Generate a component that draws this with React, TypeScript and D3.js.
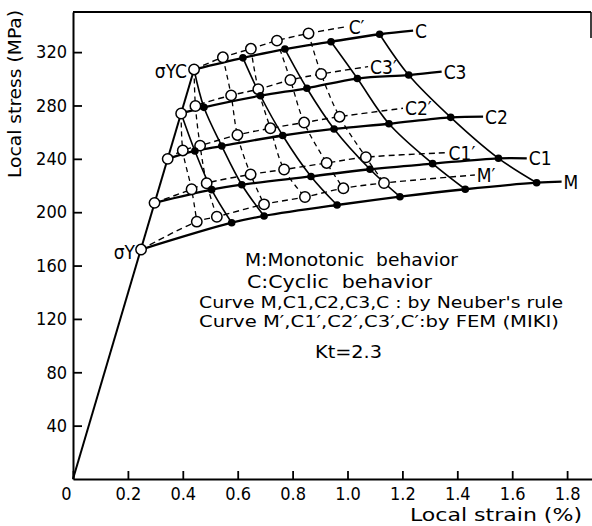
import React, { useEffect, useRef } from "react";
import * as d3 from "d3";

type Pt = [number, number];

// all points are [local strain (%), local stress (MPa)]
const yieldM: Pt = [0.248, 172];
const yieldC1: Pt = [0.297, 207];
const yieldC2: Pt = [0.345, 240];
const yieldC3: Pt = [0.394, 274];
const yieldC: Pt = [0.441, 307];

// curves by Neuber's rule (solid line, filled dots)
const neuberM: Pt[] = [[0.578, 192.1], [0.696, 197.2], [0.962, 205.4], [1.191, 211.6], [1.429, 217.2], [1.689, 222.1]];
const neuberC1: Pt[] = [[0.505, 216.9], [0.615, 220.6], [0.867, 226.8], [1.082, 232.2], [1.31, 236.4], [1.55, 240.4]];
const neuberC2: Pt[] = [[0.444, 245.9], [0.542, 249.6], [0.764, 257.5], [0.951, 262.4], [1.151, 266.3], [1.376, 271.1]];
const neuberC3: Pt[] = [[0.477, 278.6], [0.683, 287.3], [0.852, 292.9], [1.036, 300.2], [1.223, 302.8]];
const neuberC: Pt[] = [[0.619, 315.7], [0.772, 322.3], [0.94, 327.8], [1.117, 333.4]];
const neuberEnds: Pt[] = [[1.78, 222.9], [1.653, 240.4], [1.494, 271.7], [1.343, 305.3], [1.239, 336.1]];

// curves by FEM (MIKI) (dashed line, open circles)
const femM: Pt[] = [[0.451, 192.9], [0.524, 196.6], [0.696, 205.9], [0.845, 211.4], [0.985, 217.9], [1.133, 221.9]];
const femC1: Pt[] = [[0.432, 217.2], [0.487, 221.7], [0.647, 228.3], [0.769, 232.0], [0.924, 236.9], [1.067, 241.2]];
const femC2: Pt[] = [[0.4, 246.3], [0.463, 249.9], [0.599, 257.9], [0.719, 262.9], [0.842, 267.2], [0.971, 271.6]];
const femC3: Pt[] = [[0.446, 279.6], [0.576, 287.6], [0.675, 292.2], [0.792, 299.1], [0.904, 303.6]];
const femC: Pt[] = [[0.546, 316.1], [0.648, 322.5], [0.743, 328.6], [0.858, 334.0]];
const femEnds: Pt[] = [[1.464, 227.9], [1.361, 244.6], [1.202, 277.9], [1.075, 309.1], [0.997, 339.1]];

const neuberNames = ["M", "C1", "C2", "C3", "C"];
const femNames = ["M\u2032", "C1\u2032", "C2\u2032", "C3\u2032", "C\u2032"];

const xTicks = [0, 0.2, 0.4, 0.6, 0.8, 1.0, 1.2, 1.4, 1.6, 1.8];
const yTicks = [40, 80, 120, 160, 200, 240, 280, 320];

const notes = [
  "M:Monotonic  behavior",
  "C:Cyclic  behavior",
  "Curve M,C1,C2,C3,C : by Neuber's rule",
  "Curve M\u2032,C1\u2032,C2\u2032,C3\u2032,C\u2032:by FEM (MIKI)",
  "Kt=2.3",
];

const FONT = "'DejaVu Sans Condensed', 'DejaVu Sans', sans-serif";

const App = () => {
  const chartRef = useRef<HTMLDivElement>(null);

  useEffect(() => {
    document.body.style.margin = "0";
    d3.select(chartRef.current).selectAll("*").remove();

    const width = 592;
    const height = 526;

    const svg = d3
      .select(chartRef.current)
      .append("svg")
      .attr("width", width)
      .attr("height", height)
      .style("display", "block")
      .style("background", "#fff")
      .attr("font-family", FONT);

    const x = d3.scaleLinear().domain([0, 1.9]).range([73, 594.55]);
    const y = d3.scaleLinear().domain([0, 350]).range([479, 12.1]);

    // axes
    const xAxis = svg
      .append("g")
      .attr("transform", `translate(0,${y(0)})`)
      .call(
        d3
          .axisBottom(x)
          .tickValues(xTicks)
          .tickSizeInner(-8)
          .tickSizeOuter(0)
          .tickPadding(8)
          .tickFormat((d) => (+d === 0 ? "0" : (+d).toFixed(1)))
      );
    xAxis.select(".domain").attr("stroke-width", 2);
    xAxis.selectAll(".tick line").attr("stroke-width", 1.8);
    xAxis
      .selectAll("text")
      .attr("font-size", 18)
      .attr("font-family", FONT)
      .attr("dx", (d: any) => (+d === 0 ? -7 : 0));

    const yAxis = svg
      .append("g")
      .attr("transform", `translate(${x(0)},0)`)
      .call(d3.axisLeft(y).tickValues(yTicks).tickSizeInner(-9).tickSizeOuter(0).tickPadding(6));
    yAxis.select(".domain").attr("stroke-width", 2);
    yAxis.selectAll(".tick line").attr("stroke-width", 1.8);
    yAxis.selectAll("text").attr("font-size", 18).attr("font-family", FONT);

    // frame top and right stub
    svg
      .append("line")
      .attr("x1", x(0))
      .attr("x2", 591)
      .attr("y1", y(350))
      .attr("y2", y(350))
      .attr("stroke", "#000")
      .attr("stroke-width", 2);
    svg
      .append("line")
      .attr("x1", 591)
      .attr("x2", 591)
      .attr("y1", y(350))
      .attr("y2", 38)
      .attr("stroke", "#000")
      .attr("stroke-width", 1.5);

    // axis titles
    svg
      .append("text")
      .attr("transform", `translate(21,94) rotate(-90)`)
      .attr("text-anchor", "middle")
      .attr("font-size", 18)
      .attr("textLength", 168)
      .attr("lengthAdjust", "spacingAndGlyphs")
      .text("Local stress (MPa)");
    svg
      .append("text")
      .attr("x", 410)
      .attr("y", 521)
      .attr("font-size", 18)
      .attr("textLength", 172)
      .attr("lengthAdjust", "spacingAndGlyphs")
      .text("Local strain (%)");

    const smooth = d3
      .line<Pt>()
      .x((d) => x(d[0]))
      .y((d) => y(d[1]))
      .curve(d3.curveCatmullRom.alpha(0.5));

    // elastic line
    svg
      .append("path")
      .attr("d", d3.line<Pt>().x((d) => x(d[0])).y((d) => y(d[1]))([[0, 0], yieldC]) as string)
      .attr("fill", "none")
      .attr("stroke", "#000")
      .attr("stroke-width", 2);

    const starts = [yieldM, yieldC1, yieldC2, yieldC3, yieldC];
    const neuber = [neuberM, neuberC1, neuberC2, neuberC3, neuberC];
    const fem = [femM, femC1, femC2, femC3, femC];

    // crossing curves (same nominal stress level), from top curve to M
    const crossings = (sets: Pt[][]) => {
      const fullC3 = [yieldC3, ...sets[3]];
      const fullC = [yieldC, ...sets[4]];
      return d3.range(6).map((j) => {
        const pts: Pt[] = [];
        if (j >= 1) pts.push(fullC[j - 1]);
        pts.push(fullC3[j], sets[2][j], sets[1][j], sets[0][j]);
        return pts;
      });
    };

    crossings(neuber).forEach((pts) => {
      svg
        .append("path")
        .attr("d", smooth(pts) as string)
        .attr("fill", "none")
        .attr("stroke", "#000")
        .attr("stroke-width", 1.6);
    });
    crossings(fem).forEach((pts) => {
      svg
        .append("path")
        .attr("d", smooth(pts) as string)
        .attr("fill", "none")
        .attr("stroke", "#000")
        .attr("stroke-width", 1.3)
        .attr("stroke-dasharray", "5,4");
    });

    // main curves
    neuber.forEach((pts, i) => {
      svg
        .append("path")
        .attr("d", smooth([starts[i], ...pts, neuberEnds[i]]) as string)
        .attr("fill", "none")
        .attr("stroke", "#000")
        .attr("stroke-width", 2.3);
    });
    fem.forEach((pts, i) => {
      svg
        .append("path")
        .attr("d", smooth([starts[i], ...pts, femEnds[i]]) as string)
        .attr("fill", "none")
        .attr("stroke", "#000")
        .attr("stroke-width", 1.4)
        .attr("stroke-dasharray", "6,4");
    });

    // open circles (yield points and FEM points)
    svg
      .append("g")
      .selectAll("circle")
      .data([...starts, ...fem.flat()])
      .enter()
      .append("circle")
      .attr("cx", (d) => x(d[0]))
      .attr("cy", (d) => y(d[1]))
      .attr("r", 5.2)
      .attr("fill", "#fff")
      .attr("stroke", "#000")
      .attr("stroke-width", 1.5);

    // filled dots (Neuber points)
    svg
      .append("g")
      .selectAll("circle")
      .data(neuber.flat())
      .enter()
      .append("circle")
      .attr("cx", (d) => x(d[0]))
      .attr("cy", (d) => y(d[1]))
      .attr("r", 3.8)
      .attr("fill", "#000");

    // curve labels
    const labels = [
      ...neuberEnds.map((d, i) => ({ d, t: neuberNames[i] })),
      ...femEnds.map((d, i) => ({ d, t: femNames[i] })),
    ];
    svg
      .append("g")
      .selectAll("text")
      .data(labels)
      .enter()
      .append("text")
      .attr("x", (l) => x(l.d[0]) + 2)
      .attr("y", (l) => y(l.d[1]) + 7)
      .attr("font-size", 19)
      .text((l) => l.t);

    // yield labels
    svg
      .append("text")
      .attr("x", x(yieldC[0]) - 7)
      .attr("y", y(yieldC[1]) + 9)
      .attr("text-anchor", "end")
      .attr("font-size", 19)
      .text("\u03c3YC");
    svg
      .append("text")
      .attr("x", x(yieldM[0]) - 6)
      .attr("y", y(yieldM[1]) + 9)
      .attr("text-anchor", "end")
      .attr("font-size", 19)
      .text("\u03c3Y");

    // notes
    const notePos = [
      { x: 245, y: 266, w: 213, s: 17 },
      { x: 247, y: 288, w: 185, s: 17 },
      { x: 199, y: 308, w: 364, s: 16 },
      { x: 199, y: 327, w: 360, s: 16 },
      { x: 315, y: 358, w: 67, s: 17 },
    ];
    notes.forEach((t, i) => {
      svg
        .append("text")
        .attr("x", notePos[i].x)
        .attr("y", notePos[i].y)
        .attr("font-size", notePos[i].s)
        .attr("textLength", notePos[i].w)
        .attr("lengthAdjust", "spacingAndGlyphs")
        .attr("xml:space", "preserve")
        .style("white-space", "pre")
        .text(t);
    });
  }, []);

  return <div ref={chartRef}></div>;
};

export default App;
